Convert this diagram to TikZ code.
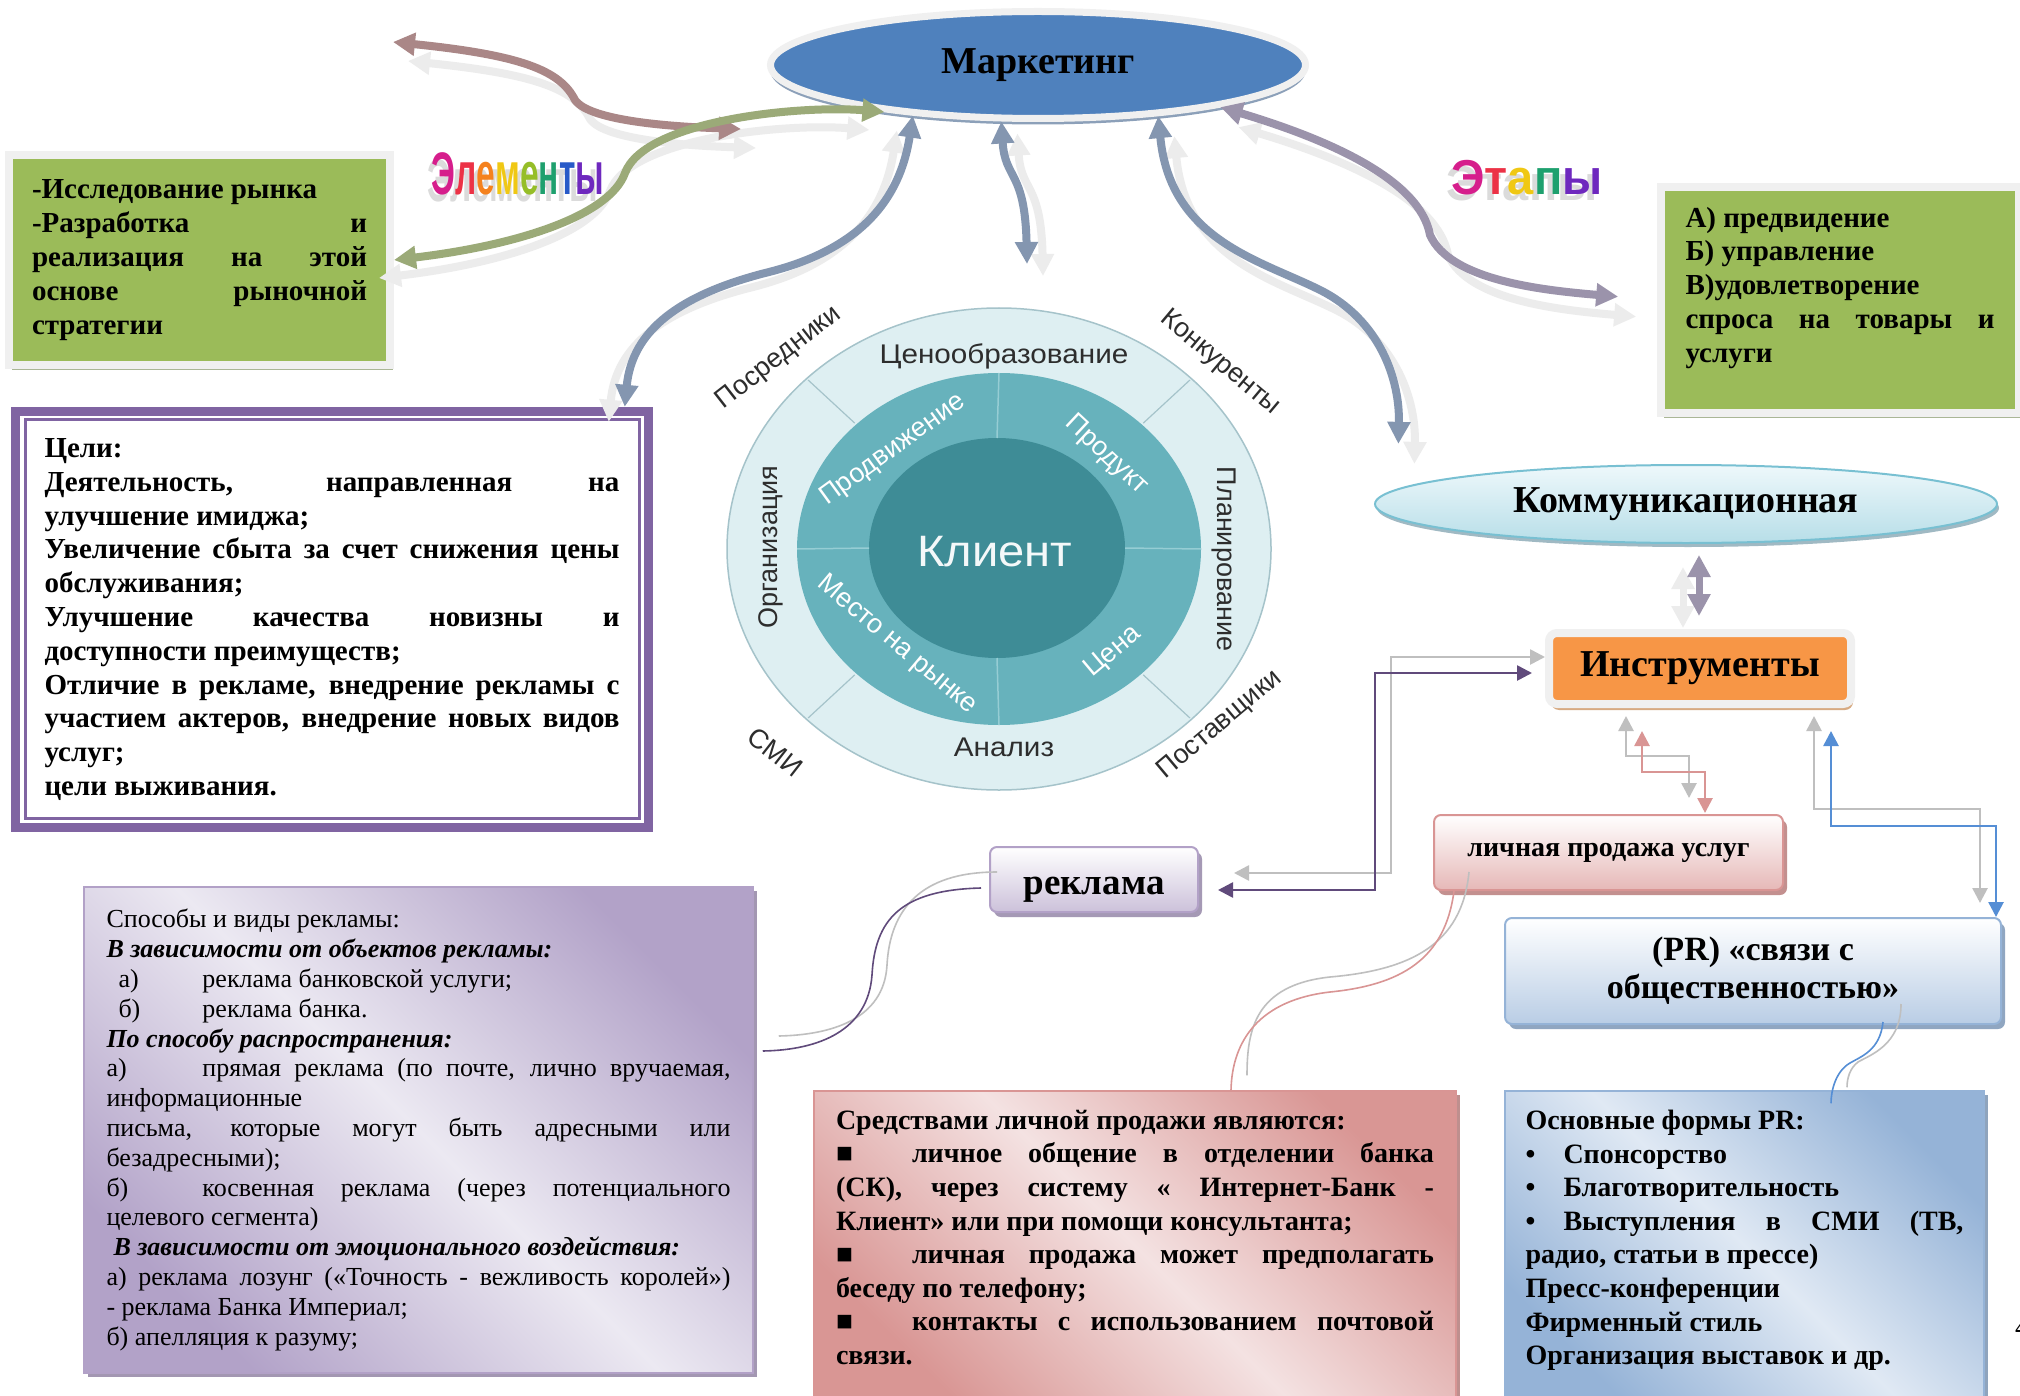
\documentclass[tikz,border=0pt]{standalone}
\usepackage{fontspec}
\setmainfont{Liberation Serif}
\setsansfont{Liberation Sans}
\usetikzlibrary{arrows.meta,shapes.geometric,shadows}

\definecolor{mktblue}{RGB}{79,129,189}
\definecolor{rimgray}{RGB}{240,240,240}
\definecolor{rimshadow}{RGB}{140,160,185}
\definecolor{leafgreen}{RGB}{155,187,89}
\definecolor{leafshadow}{RGB}{170,182,150}
\definecolor{goalpurple}{RGB}{128,100,162}
\definecolor{commtop}{RGB}{238,248,251}
\definecolor{commbottom}{RGB}{183,222,232}
\definecolor{commline}{RGB}{120,192,210}
\definecolor{commshadow}{RGB}{160,185,195}
\definecolor{toolorange}{RGB}{247,150,70}
\definecolor{toolshadow}{RGB}{215,170,130}
\definecolor{salespink}{RGB}{230,184,183}
\definecolor{salesline}{RGB}{217,149,148}
\definecolor{prblue}{RGB}{185,205,229}
\definecolor{prline}{RGB}{149,179,215}
\definecolor{adlilac}{RGB}{204,193,218}
\definecolor{adline}{RGB}{178,161,199}
\definecolor{adlight}{RGB}{236,233,242}
\definecolor{addark}{RGB}{178,162,200}
\definecolor{meanlight}{RGB}{244,226,226}
\definecolor{meandark}{RGB}{217,150,148}
\definecolor{formlight}{RGB}{224,233,244}
\definecolor{formdark}{RGB}{149,179,215}
\definecolor{bluegray}{RGB}{132,150,176}
\definecolor{mauve}{RGB}{170,135,135}
\definecolor{olive}{RGB}{155,170,120}
\definecolor{lavgray}{RGB}{155,147,171}
\definecolor{ghostgray}{RGB}{236,236,236}
\definecolor{connpurple}{RGB}{96,74,123}
\definecolor{conngray}{RGB}{191,191,191}
\definecolor{connpink}{RGB}{217,149,148}
\definecolor{connblue}{RGB}{85,142,213}
\definecolor{ringout}{RGB}{222,239,242}
\definecolor{ringline}{RGB}{165,195,202}
\definecolor{ringmid}{RGB}{103,178,188}
\definecolor{ringin}{RGB}{62,140,150}
\definecolor{ringdiv}{RGB}{150,205,212}
\definecolor{wheeltext}{RGB}{45,45,45}
\definecolor{waA}{RGB}{214,30,140}
\definecolor{waB}{RGB}{236,50,70}
\definecolor{waC}{RGB}{245,130,30}
\definecolor{waD}{RGB}{240,200,20}
\definecolor{waE}{RGB}{150,190,40}
\definecolor{waF}{RGB}{30,160,110}
\definecolor{waG}{RGB}{40,90,200}
\definecolor{waH}{RGB}{110,40,190}

\newcommand{\boxfont}{\fontsize{29}{33.8}\selectfont\bfseries\parindent=0pt\tolerance=10000\hyphenpenalty=10000\exhyphenpenalty=10000}
\newcommand{\notefont}{\fontsize{28}{33.6}\selectfont\bfseries\parindent=0pt\tolerance=10000\hyphenpenalty=10000\exhyphenpenalty=10000}
\newcommand{\adsfont}{\fontsize{26}{29.8}\selectfont\parindent=0pt\tolerance=10000\hyphenpenalty=10000\exhyphenpenalty=10000}

\begin{document}
\begin{tikzpicture}[x=1pt,y=-1pt,
  fatarrow/.style={line width=8pt,{Triangle[length=22pt,width=22pt]}-{Triangle[length=22pt,width=22pt]}},
  ghost/.style 2 args={fatarrow,draw=ghostgray,transform canvas={xshift=#1pt,yshift=-#2pt}},
  thinconn/.style={line width=2.6pt,{Triangle[length=15pt,width=15pt]}-{Triangle[length=15pt,width=15pt]}},
  curveline/.style={line width=1.6pt},
  wheellbl/.style={font=\fontsize{27}{27}\selectfont\sffamily,text=wheeltext,inner sep=0},
  ringlbl/.style={font=\fontsize{27}{27}\selectfont\sffamily,text=white,inner sep=0},
  diagshade/.style 2 args={top color=#1,bottom color=#1,middle color=#2,shading angle=-45},
  roundbox/.style={rounded corners=7pt,line width=2pt,inner sep=0}]

\useasboundingbox (0,0) rectangle (2020,1396);
\fill[white] (0,0) rectangle (2020,1396);

% Wheel around the client
\fill[ringout] (999,549) ellipse [x radius=272, y radius=241];
\draw[ringline,line width=1.5pt] (999,549) ellipse [x radius=272, y radius=241];
\fill[ringmid] (999,549) ellipse [x radius=202, y radius=176];
\fill[ringin] (997,548) ellipse [x radius=128, y radius=110];
\foreach \a in {45,135,225,315}
  \draw[ringline,line width=1.2pt] ({999+204*cos(\a)},{549-178*sin(\a)}) -- ({999+270*cos(\a)},{549-239*sin(\a)});
\foreach \a in {0,90,180,270}
  \draw[ringdiv,line width=1.5pt] ({997+128*cos(\a)},{548-110*sin(\a)}) -- ({999+202*cos(\a)},{549-176*sin(\a)});

\node[wheellbl] (wprice) at (1004,356) {\scalebox{1.1}[1]{Ценообразование}};
\node[wheellbl,rotate=90] (worg) at (771,547) {Организация};
\node[wheellbl,rotate=-90] (wplan) at (1224,559) {Планирование};
\node[wheellbl] (wanal) at (1004,747) {\scalebox{1.1}[1]{Анализ}};
\node[wheellbl,rotate=38] (wmid) at (779,358) {Посредники};
\node[wheellbl,rotate=-40] (wcomp) at (1220,363) {Конкуренты};
\node[wheellbl,rotate=40] (wsupp) at (1220,725) {Поставщики};
\node[wheellbl,rotate=-38] (wmedia) at (775,752) {СМИ};
\node[ringlbl,rotate=36] (wpromo) at (893,450) {Продвижение};
\node[ringlbl,rotate=-43] (wprod) at (1106,455) {Продукт};
\node[ringlbl,rotate=40] (wcost) at (1113,652) {Цена};
\node[ringlbl,rotate=-40] (wplace) at (897,645) {Место на рынке};
\node[font=\fontsize{44}{44}\selectfont\sffamily,text=white!94!ringin,inner sep=0] (client) at (995,552) {\scalebox{1.07}[1]{Клиент}};

% Main ellipse and side boxes
\node[ellipse,fill=mktblue,draw=rimgray,line width=7pt,minimum width=535,minimum height=107,inner sep=0,
  drop shadow={shadow xshift=0pt,shadow yshift=-6pt,fill=rimshadow,opacity=1},
  font=\fontsize{38}{40}\selectfont\bfseries] (mkt) at (1038,65) {Маркетинг};

\node[fill=leafgreen,draw=rimgray,line width=8pt,minimum width=381,minimum height=210,
  drop shadow={shadow xshift=3pt,shadow yshift=-5pt,fill=leafshadow,opacity=1},
  text width=335pt,align=justify,font=\boxfont] (elem) at (199.5,260)
  {-Исследование рынка\par -Разработка и\linebreak реализация на этой\linebreak основе рыночной\linebreak стратегии};

\node[fill=leafgreen,draw=rimgray,line width=8pt,minimum width=358,minimum height=226,
  drop shadow={shadow xshift=3pt,shadow yshift=-5pt,fill=leafshadow,opacity=1},
  font=\boxfont] (stages) at (1840,300)
  {\parbox[c][186pt][t]{309pt}{А) предвидение\par Б) управление\par В)удовлетворение\linebreak спроса на товары и\linebreak услуги}};

\node[inner sep=0] (elemshadow) at (513,181) {\scalebox{0.67}[1.2]{\fontsize{50}{50}\selectfont\sffamily\bfseries\color{gray!28}Элементы}};
\node[inner sep=0] (elemlbl) at (518,174) {\scalebox{0.67}[1.2]{\fontsize{50}{50}\selectfont\sffamily\bfseries
  \textcolor{waA}{Э}\textcolor{waB}{л}\textcolor{waC}{е}\textcolor{waD}{м}\textcolor{waE}{е}\textcolor{waF}{н}\textcolor{waG}{т}\textcolor{waH}{ы}}};
\node[inner sep=0] (stagesshadow) at (1522,184) {\scalebox{0.94}[0.98]{\fontsize{50}{50}\selectfont\sffamily\bfseries\color{gray!28}Этапы}};
\node[inner sep=0] (stageslbl) at (1527,178) {\scalebox{0.94}[0.98]{\fontsize{50}{50}\selectfont\sffamily\bfseries
  \textcolor{waA}{Э}\textcolor{waB}{т}\textcolor{waD}{а}\textcolor{waF}{п}\textcolor{waH}{ы}}};

% Goals box with double frame
\node[fill=white,minimum width=642,minimum height=425,inner sep=0,
  text width=575pt,align=justify,font=\boxfont] (goals) at (332,619.5)
  {Цели:\par Деятельность, направленная на\linebreak улучшение имиджа;\par
   Увеличение сбыта за счет снижения цены\linebreak обслуживания;\par
   Улучшение качества новизны и\linebreak доступности преимуществ;\par
   Отличие в рекламе, внедрение рекламы с\linebreak участием актеров, внедрение новых видов\linebreak услуг;\par
   цели выживания.};
\draw[goalpurple,line width=9pt] ([shift={(4.5,4.5)}]goals.north west) rectangle ([shift={(-4.5,-4.5)}]goals.south east);
\draw[goalpurple,line width=3pt] ([shift={(14.5,12.5)}]goals.north west) rectangle ([shift={(-14,-13.5)}]goals.south east);

% Communication branch
\node[ellipse,top color=commtop,bottom color=commbottom,draw=commline,line width=2pt,
  minimum width=622,minimum height=78,inner sep=0,
  drop shadow={shadow xshift=2pt,shadow yshift=-4pt,fill=commshadow,opacity=1},
  font=\fontsize{38}{40}\selectfont\bfseries] (comm) at (1686,504) {Коммуникационная};

\node[fill=toolorange,draw=rimgray,line width=8pt,rounded corners=8pt,minimum width=302,minimum height=71,inner sep=0,
  drop shadow={shadow xshift=2pt,shadow yshift=-6pt,fill=toolshadow,opacity=1},
  font=\fontsize{38}{40}\selectfont\bfseries] (tools) at (1700,668.5) {Инструменты};

\node[roundbox,top color=white,bottom color=salespink,draw=salesline,minimum width=349,minimum height=75,
  drop shadow={shadow xshift=4pt,shadow yshift=-5pt,fill=salesline!75!gray,opacity=1},
  font=\fontsize{28}{30}\selectfont\bfseries] (sales) at (1608.5,852.5) {личная продажа услуг};

\node[roundbox,top color=white,bottom color=prblue,draw=prline,minimum width=496,minimum height=106,
  drop shadow={shadow xshift=4pt,shadow yshift=-5pt,fill=prline!75!gray,opacity=1},
  align=center,font=\fontsize{34}{38}\selectfont\bfseries] (pr) at (1753,971) {(PR) «связи с\\общественностью»};

\node[roundbox,top color=white,bottom color=adlilac,draw=adline,minimum width=208,minimum height=65,
  drop shadow={shadow xshift=4pt,shadow yshift=-5pt,fill=adline!75!gray,opacity=1},
  font=\fontsize{37}{38}\selectfont\bfseries] (reklama) at (1094,879.5) {\raisebox{0pt}[\dimexpr\height+20pt][\depth]{реклама}};

% Lower text boxes
\node[diagshade={addark}{adlight},draw=adline,line width=1.5pt,minimum width=669,minimum height=486,
  drop shadow={shadow xshift=4pt,shadow yshift=-4pt,fill=adline!70!gray,opacity=1},
  text width=624pt,align=justify,font=\adsfont] (ads) at (418.5,1130)
  {Способы и виды рекламы:\par
   \textbf{\textit{В зависимости от объектов рекламы:}}\par
   \hspace*{12pt}\makebox[84pt][l]{а)}реклама банковской услуги;\par
   \hspace*{12pt}\makebox[84pt][l]{б)}реклама банка.\par
   \textbf{\textit{По способу распространения:}}\par
   \makebox[96pt][l]{а)}прямая реклама (по почте, лично вручаемая,\linebreak информационные\par
   письма, которые могут быть адресными или\linebreak безадресными);\par
   \makebox[96pt][l]{б)}косвенная реклама (через потенциального\linebreak целевого сегмента)\par
   \hspace*{7pt}\textbf{\textit{В зависимости от эмоционального воздействия:}}\par
   а) реклама лозунг («Точность - вежливость королей»)\linebreak - реклама Банка Империал;\par
   б) апелляция к разуму;};

\node[diagshade={meandark}{meanlight},draw=salesline,line width=1.5pt,minimum width=642,minimum height=309,
  drop shadow={shadow xshift=4pt,shadow yshift=-4pt,fill=salesline!70!gray,opacity=1},
  font=\notefont] (means) at (1135,1245.5)
  {\parbox[c][271pt][t]{598pt}{Средствами личной продажи являются:\par
   \makebox[76pt][l]{■}личное общение в отделении банка\linebreak (СК), через систему « Интернет-Банк -\linebreak Клиент» или при помощи консультанта;\par
   \makebox[76pt][l]{■}личная продажа может предполагать\linebreak беседу по телефону;\par
   \makebox[76pt][l]{■}контакты с использованием почтовой\linebreak связи.}};

\node[diagshade={formdark}{formlight},draw=prline,line width=1.5pt,minimum width=479,minimum height=309,
  drop shadow={shadow xshift=4pt,shadow yshift=-4pt,fill=prline!70!gray,opacity=1},
  font=\notefont] (forms) at (1744.5,1245.5)
  {\parbox[c][271pt][t]{438pt}{Основные формы PR:\par
   \makebox[38pt][l]{•}Спонсорство\par
   \makebox[38pt][l]{•}Благотворительность\par
   \makebox[38pt][l]{•}Выступления в СМИ (ТВ,\linebreak радио, статьи в прессе)\par
   Пресс-конференции\par
   Фирменный стиль\par
   Организация выставок и др.}};

\node[anchor=west,inner sep=0,font=\fontsize{28}{30}\selectfont] (pagenum) at (2015,1327) {4};

% Free ends of the big arrows
\coordinate (mauveL) at (393,42);
\coordinate (mauveR) at (741,129);
\coordinate (midend) at (1027,264);

% Light copies under the big arrows
\draw[ghost={15}{19}] (mauveL) .. controls (520,55) and (560,70) .. (575,100) .. controls (590,122) and (680,127) .. (mauveR);
\draw[ghost={-15}{18}] (elem.east) .. controls (520,245) and (610,215) .. (625,173) .. controls (645,120) and (800,105) .. (mkt.197);
\draw[ghost={-16}{15}] (goals.36) .. controls (632,330) and (680,295) .. (765,273) .. controls (860,250) and (900,200) .. (mkt.202);
\draw[ghost={16}{12}] (mkt.237) .. controls (1005,180) and (1025,170) .. (midend);
\draw[ghost={16}{20},shorten >=45pt] (mkt.337) .. controls (1170,240) and (1260,260) .. (1320,290) .. controls (1380,320) and (1400,380) .. (comm.177);
\draw[ghost={18}{20},shorten >=39pt] (mkt.347) .. controls (1330,140) and (1420,180) .. (1430,235) .. controls (1450,280) and (1540,290) .. (stages.west);
\draw[ghost={-16}{12},line width=7pt,shorten <=11pt,shorten >=13pt] ([xshift=13pt]comm.south) -- ([xshift=-1pt]tools.north);

% Big arrows
\draw[fatarrow,draw=mauve] (mauveL) .. controls (520,55) and (560,70) .. (575,100) .. controls (590,122) and (680,127) .. (mauveR);
\draw[fatarrow,draw=olive] (elem.east) .. controls (520,245) and (610,215) .. (625,173) .. controls (645,120) and (800,105) .. (mkt.197);
\draw[fatarrow,draw=bluegray] (goals.36) .. controls (632,330) and (680,295) .. (765,273) .. controls (860,250) and (900,200) .. (mkt.202);
\draw[fatarrow,draw=bluegray] (mkt.237) .. controls (1005,180) and (1025,170) .. (midend);
\draw[fatarrow,draw=bluegray,shorten >=45pt] (mkt.337) .. controls (1170,240) and (1260,260) .. (1320,290) .. controls (1380,320) and (1400,380) .. (comm.177);
\draw[fatarrow,draw=lavgray,shorten >=39pt] (mkt.347) .. controls (1330,140) and (1420,180) .. (1430,235) .. controls (1450,280) and (1540,290) .. (stages.west);
\draw[fatarrow,draw=lavgray,line width=7pt,shorten <=11pt,shorten >=13pt] ([xshift=13pt]comm.south) -- ([xshift=-1pt]tools.north);

% Elbow connectors of the tools
\draw[thinconn,draw=conngray,shorten >=35pt] ([yshift=11.5pt]tools.west) -| (1391,800) |- ([yshift=6.5pt]reklama.east);
\draw[thinconn,draw=connpurple,shorten <=13pt,shorten >=19pt] ([yshift=-4.5pt]tools.west) -| (1375,800) |- ([yshift=-10.5pt]reklama.east);
\draw[thinconn,draw=conngray,shorten <=8pt,shorten >=16pt] ([xshift=-74pt]tools.south) |- (1689,756) -- ([xshift=80.5pt]sales.north);
\draw[thinconn,draw=connpink,shorten <=23pt,shorten >=1pt] ([xshift=-58pt]tools.south) |- (1705,772) -- ([xshift=96.5pt]sales.north);
\draw[thinconn,draw=conngray,shorten <=8pt,shorten >=14pt] ([xshift=114pt]tools.south) |- (1980,809) -- ([xshift=227pt]pr.north);
\draw[thinconn,draw=connblue,shorten <=23pt] ([xshift=131pt]tools.south) |- (1996,826) -- ([xshift=243pt]pr.north);

% Thin curves to the text boxes
\draw[curveline,draw=conngray] ([xshift=8pt,yshift=7.5pt]reklama.west) .. controls (920,872) and (890,910) .. (887,965) .. controls (884,1020) and (830,1035) .. ([xshift=25pt,yshift=94pt]ads.east);
\draw[curveline,draw=connpurple] ([xshift=-8pt,yshift=-8.5pt]reklama.west) .. controls (900,890) and (875,920) .. (872,975) .. controls (868,1030) and (820,1050) .. ([xshift=9pt,yshift=79pt]ads.east);
\draw[curveline,draw=conngray] ([xshift=-139.5pt,yshift=19pt]sales.south) .. controls (1462,945) and (1410,970) .. (1330,977) .. controls (1255,985) and (1247,1030) .. ([xshift=112pt,yshift=15pt]means.north);
\draw[curveline,draw=connpink] ([xshift=-154.5pt]sales.south) .. controls (1445,960) and (1400,985) .. (1330,992) .. controls (1260,1000) and (1232,1040) .. ([xshift=96pt]means.north);
\draw[curveline,draw=conngray] ([xshift=148pt,yshift=21pt]pr.south) .. controls (1901,1045) and (1870,1055) .. (1858,1062) .. controls (1850,1068) and (1847,1078) .. ([xshift=102.5pt,yshift=3pt]forms.north);
\draw[curveline,draw=connblue] ([xshift=130pt,yshift=3pt]pr.south) .. controls (1880,1050) and (1862,1056) .. (1850,1063) .. controls (1836,1071) and (1831,1090) .. ([xshift=86.5pt,yshift=-13pt]forms.north);
\end{tikzpicture}
\end{document}
